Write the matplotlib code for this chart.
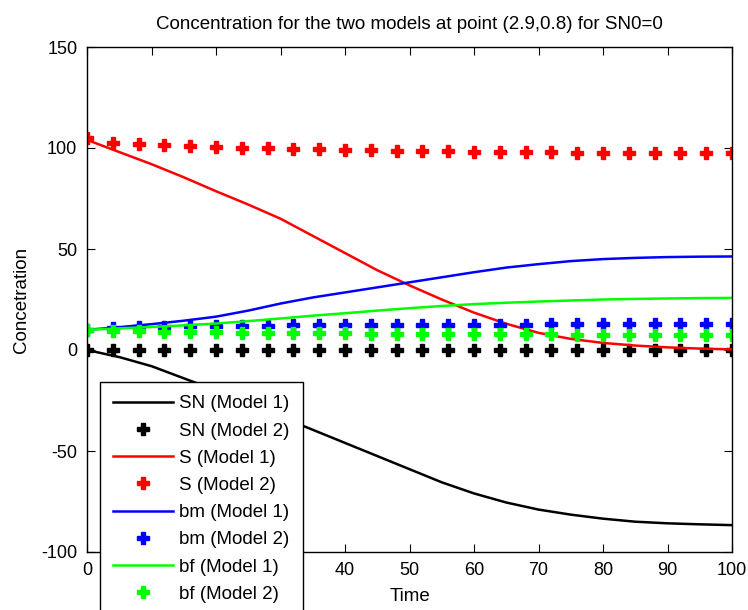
import matplotlib
matplotlib.use("Agg")
import matplotlib.pyplot as plt

# ---- data ----
t_line = [0, 5, 10, 15, 20, 25, 30, 35, 40, 45, 50, 55, 60, 65, 70, 75, 80, 85, 90, 95, 100]
SN_m1 = [0, -3.5, -8, -14, -20, -26.5, -33, -39.5, -46, -52.5, -59, -65.5, -71, -75.5, -79, -81.5, -83.5, -85, -85.8, -86.3, -86.7]
S_m1 = [104, 98, 92, 85.5, 78.6, 72, 65, 56.5, 48, 39.5, 32, 25, 18.5, 13, 8.5, 5.5, 3.5, 2.2, 1.3, 0.7, 0.3]
bm_m1 = [10, 11.3, 12.8, 14.5, 16.5, 19.5, 23, 26, 28.5, 31, 33.5, 36, 38.5, 40.8, 42.5, 44, 45, 45.6, 46, 46.2, 46.3]
bf_m1 = [10, 10.7, 11.4, 12.2, 13.1, 14.3, 15.6, 17, 18.2, 19.5, 20.7, 21.8, 22.7, 23.4, 24, 24.5, 25, 25.3, 25.5, 25.7, 25.8]

t_mark = [0, 4, 8, 12, 16, 20, 24, 28, 32, 36, 40, 44, 48, 52, 56, 60, 64, 68, 72, 76, 80, 84, 88, 92, 96, 100]
SN_m2 = [0, 0, 0, 0, 0, 0, 0, 0, 0, 0, 0, 0, 0, 0, 0, 0, 0, 0, 0, 0, 0, 0, 0, 0, 0, 0]
S_m2 = [105, 102.6, 101.8, 101.3, 100.9, 100.5, 100.1, 99.8, 99.5, 99.3, 99.1, 98.9, 98.7,
        98.5, 98.4, 98.2, 98.1, 97.9, 97.8, 97.7, 97.6, 97.6, 97.5, 97.5, 97.4, 97.4]
bm_m2 = [10, 10.8, 11.2, 11.5, 11.7, 11.9, 12.0, 12.1, 12.2, 12.3, 12.3, 12.4, 12.4,
         12.5, 12.5, 12.6, 12.6, 12.6, 12.7, 12.7, 12.7, 12.7, 12.8, 12.8, 12.8, 12.8]
bf_m2 = [10, 9.6, 9.3, 9.1, 8.9, 8.7, 8.6, 8.5, 8.4, 8.3, 8.2, 8.1, 8.0,
         7.9, 7.9, 7.8, 7.8, 7.7, 7.7, 7.6, 7.6, 7.6, 7.5, 7.5, 7.5, 7.5]

labels = ["SN (Model 1)", "SN (Model 2)", "S (Model 1)", "S (Model 2)",
          "bm (Model 1)", "bm (Model 2)", "bf (Model 1)", "bf (Model 2)"]
x_ticks = [0, 10, 20, 30, 40, 50, 60, 70, 80, 90, 100]
y_ticks = [-100, -50, 0, 50, 100, 150]

plt.rcParams['font.family'] = ["Liberation Sans", "DejaVu Sans"]
plt.rcParams['axes.unicode_minus'] = False

fig = plt.figure(figsize=(7.48, 6.10), dpi=100)
ax = fig.add_axes([87/748, 1-552/610, (732-87)/748, (552-47)/610])

colors = ["#000000", "#ff0000", "#0000ff", "#00ff00"]
lines_m1 = [SN_m1, S_m1, bm_m1, bf_m1]
marks_m2 = [SN_m2, S_m2, bm_m2, bf_m2]
for i, (c, l, m) in enumerate(zip(colors, lines_m1, marks_m2)):
    ax.plot(t_line, l, color=c, lw=1.8, label=labels[2*i])
    ax.plot(t_mark, m, linestyle='none', marker='P', ms=8, color=c, mec=c, label=labels[2*i+1])

ax.set_xlim(0, 100)
ax.set_ylim(-100, 150)
ax.set_xticks(x_ticks)
ax.set_yticks(y_ticks)
ax.tick_params(direction='in', top=True, right=True, length=6, labelsize=13, pad=7)
for s in ax.spines.values():
    s.set_linewidth(1.0)
ax.set_title("Concentration for the two models at point (2.9,0.8) for SN0=0", fontsize=13.5, pad=13)
ax.set_xlabel("Time", fontsize=13.5, labelpad=7)
ax.set_ylabel("Concetration", fontsize=13.5, labelpad=8)

leg = ax.legend(loc='upper left', bbox_to_anchor=(100/748, 1-382/610), bbox_transform=fig.transFigure,
                frameon=True, fancybox=False, shadow=False, framealpha=1, edgecolor='black',
                prop={'size': 13.5},
                handlelength=3.2, handletextpad=0.32, labelspacing=0.54, borderpad=0.7,
                borderaxespad=0)
leg.get_frame().set_linewidth(1.0)

fig.savefig("out.png", dpi=100)
